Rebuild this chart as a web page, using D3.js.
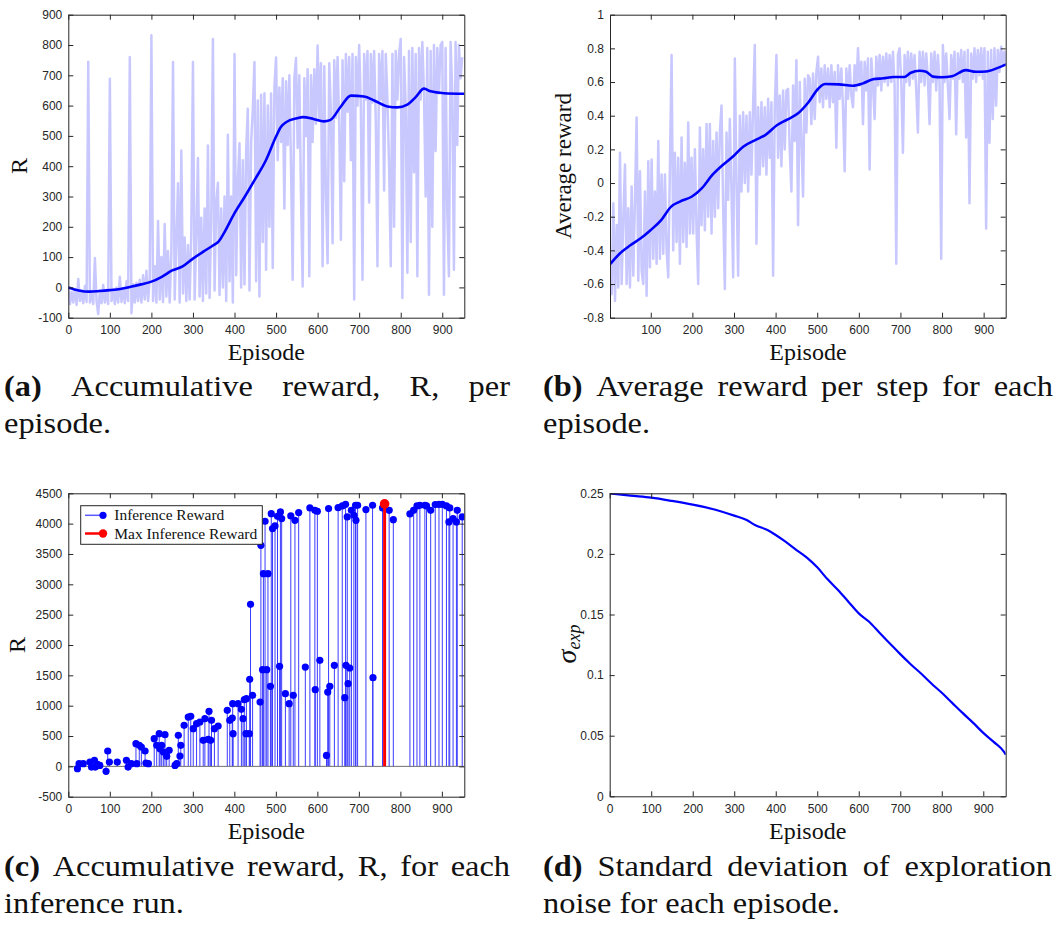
<!DOCTYPE html>
<html>
<head>
<meta charset="utf-8">
<script src="https://cdn.jsdelivr.net/npm/d3@7"></script>
<style>
  html, body { margin: 0; padding: 0; background: #fff; }
  svg { display: block; }
  .tick text { font-family: "Liberation Sans", Arial, Helvetica, sans-serif; font-size: 12px; fill: #262626; }
  .tick line, .domain { stroke: #262626; stroke-width: 1; }
  .serif { font-family: "Liberation Serif", "Times New Roman", serif; fill: #111; }
</style>
</head>
<body>
<script>
// ---------- (a) accumulative reward per episode ----------
const rewardEpStart = 0, rewardEpStep = 4;
const rewardRaw = [
  0,-55,-15,-50,-5,-58,28,-45,-10,-52,5,-48,745,-50,-12,-55,97,-45,-88,-10,-52,8,-50,-8,-55,
  689,-45,-5,-55,0,-50,35,-48,-5,-52,20,-45,760,-85,10,-50,15,-45,25,-50,40,-40,55,-45,30,
  832,-45,70,-50,219,-40,100,-48,209,-30,120,-50,110,744,-40,150,344,-50,452,-20,165,-45,140,-40,180,
  744,-40,170,427,-30,230,-45,260,-20,468,-35,220,820,-10,280,345,-25,260,0,300,-45,504,20,300,-50,
  770,40,350,476,0,420,10,450,590,-10,480,586,744,20,617,-30,636,150,641,58,600,200,640,64,660,
  759,420,660,480,690,260,680,470,700,400,25,690,757,460,700,300,3,690,500,720,37,700,480,720,540,
  798,560,740,70,730,300,80,740,580,146,750,560,760,530,157,750,350,770,580,760,420,770,-40,760,600,
  800,600,25,770,620,780,280,770,610,780,550,70,770,620,780,320,770,620,400,70,770,200,780,620,770,
  820,-35,760,600,48,780,150,790,380,770,37,790,620,810,640,300,790,-24,780,200,800,450,790,640,800,
  810,-24,790,250,37,810,650,58,810,470,800,690,760
];
const rewardSmoothEp = [0,25,50,75,100,125,150,175,200,225,250,275,300,325,350,362,375,400,425,450,475,500,512,525,550,565,590,615,630,656,680,712,736,768,792,816,836,856,872,904,953];
const rewardSmooth   = [0,-10,-14,-12,-9,-5,2,10,19,35,56,69,95,118,140,152,180,245,300,358,418,498,530,546,558,562,556,548,552,597,633,630,617,597,594,603,628,656,647,641,639];
const rewardYTicks = [-100,0,100,200,300,400,500,600,700,800,900];

// ---------- (b) average reward per step ----------
const avgEpStart = 2, avgEpStep = 4;
const avgRaw = [
  -0.48,-0.66,-0.12,-0.70,-0.25,-0.62,0.18,-0.60,-0.20,0.11,-0.60,-0.15,-0.62,-0.02,-0.55,-0.10,0.39,-0.58,0.07,-0.52,-0.60,-0.05,-0.67,0.13,-0.50,
  0.14,-0.45,-0.05,-0.48,0.25,-0.45,0.05,-0.42,0.05,-0.40,-0.56,0.10,0.76,-0.40,0.18,-0.35,0.15,-0.48,0.27,-0.35,0.12,-0.38,0.36,-0.30,0.15,
  -0.30,0.20,-0.28,-0.60,0.33,-0.25,0.20,-0.28,0.35,-0.20,0.35,-0.30,0.25,-0.20,0.30,-0.15,0.30,0.46,-0.15,-0.63,0.30,-0.10,0.38,-0.05,-0.56,
  0.74,0.00,-0.55,0.40,-0.05,0.42,0.00,0.40,-0.05,0.42,0.05,0.47,0.82,-0.36,0.45,0.05,0.48,0.10,0.45,0.05,0.50,0.15,0.48,-0.55,0.45,
  0.76,0.15,0.52,0.10,0.55,0.20,0.55,0.56,0.20,-0.05,0.58,0.25,0.73,-0.25,0.60,0.25,-0.08,0.62,0.30,0.64,0.62,0.35,0.65,0.38,0.66,
  0.75,0.48,0.68,0.45,0.70,0.50,0.68,0.45,0.70,0.48,0.66,0.21,0.70,0.50,0.68,0.45,0.07,0.68,0.50,0.70,0.52,0.45,0.70,0.55,0.80,
  0.58,0.72,0.35,0.72,0.55,0.74,0.08,0.74,0.58,0.38,0.75,0.58,0.76,0.55,0.75,0.60,0.77,0.58,0.76,0.60,0.78,0.58,-0.48,0.76,0.80,
  0.60,0.18,0.76,0.60,0.78,0.58,0.77,0.62,0.76,0.55,0.30,0.78,0.60,0.78,0.58,0.77,0.62,0.35,0.77,0.60,0.78,0.55,0.76,0.60,-0.45,
  0.82,0.60,0.77,0.58,0.38,0.76,0.62,0.78,0.29,0.77,0.62,0.79,0.60,0.78,0.27,0.79,-0.12,0.77,0.62,0.80,0.60,0.79,0.64,0.80,0.62,
  0.80,-0.27,0.78,0.24,0.79,0.38,0.80,0.46,0.79,0.66,0.81,0.70,0.78,0.70
];
const avgSmoothEp = [3,25,51,75,100,125,149,170,199,223,248,273,297,322,351,375,404,429,454,478,503,519,552,585,610,634,659,684,709,725,746,762,778,799,824,857,881,906,931,954];
const avgSmooth   = [-0.48,-0.42,-0.37,-0.33,-0.279,-0.22,-0.14,-0.11,-0.08,-0.03,0.048,0.107,0.156,0.216,0.255,0.285,0.345,0.378,0.414,0.477,0.562,0.588,0.586,0.578,0.592,0.616,0.622,0.63,0.63,0.655,0.667,0.661,0.632,0.628,0.634,0.671,0.661,0.663,0.681,0.705];
const avgYTicks = [-0.8,-0.6,-0.4,-0.2,0,0.2,0.4,0.6,0.8,1];

// ---------- (c) inference runs ----------
const inferEp = [22,26,36,52,56,63,65,70,76,91,95,99,118,140,144,152,163,165,171,176,185,187,193,207,213,219,221,225,229,233,237,243,257,261,265,269,271,279,289,295,301,309,317,325,329,337,339,343,345,352,361,383,389,395,396,397,409,417,421,424,428,429,436,437,439,444,462,464,468,470,474,478,481,487,489,492,498,504,509,511,514,523,532,536,542,546,555,571,582,594,595,600,606,622,625,627,630,641,650,660,666,668,669,672,674,678,682,688,692,693,697,717,733,734,757,762,773,783,823,832,840,847,859,863,873,884,893,901,911,917,919,927,935,937,949];
const inferR  = [-38,44,44,71,-11,99,-11,33,16,-82,253,71,71,99,-11,44,374,44,346,319,253,55,44,456,346,538,291,346,236,522,165,264,16,44,511,170,346,676,813,824,621,703,731,429,786,445,907,429,758,621,665,923,758,797,1033,538,1033,940,786,1099,538,1115,538,1434,2670,1170,1060,3643,1594,3176,4039,1594,3176,1319,4165,3918,3962,4121,1649,4193,4083,1198,1033,4127,1170,4055,4182,1637,4259,4220,1264,4204,1747,181,1225,4248,1319,1665,4264,4292,1132,4319,1665,4110,1363,1621,4220,4138,4303,4055,4303,4231,4303,1462,4259,4325,4220,4066,4160,4220,4292,4303,4303,4292,4220,4314,4319,4319,4292,4028,4259,4083,4028,4220,4110];
const inferYTicks = [-500,0,500,1000,1500,2000,2500,3000,3500,4000,4500];
const legendLabels = ["Inference Reward", "Max Inference Reward"];

// ---------- (d) exploration noise ----------
const sigmaEp = [0,50,100,150,200,250,300,330,350,380,400,420,450,475,500,525,550,575,600,625,650,675,700,725,750,775,800,825,850,875,900,925,950,954];
const sigma   = [0.25,0.2481,0.2464,0.2437,0.2406,0.2368,0.2316,0.228,0.2238,0.2197,0.2156,0.2109,0.2032,0.1969,0.1889,0.179,0.1702,0.1606,0.1509,0.144,0.1349,0.1261,0.1173,0.109,0.1013,0.0931,0.0854,0.0771,0.0688,0.0608,0.0523,0.0449,0.0366,0.0344];
const sigmaYTicks = [0,0.05,0.1,0.15,0.2,0.25];

const episodeTicks = [0,100,200,300,400,500,600,700,800,900];
const episodeTicksB = [100,200,300,400,500,600,700,800,900];

const captions = [
  { x0: 4,   x1: 510,  y: 396, line1: ["(a)", "Accumulative", "reward,", "R,", "per"], line2: "episode." },
  { x0: 543, x1: 1053, y: 396, line1: ["(b)", "Average", "reward", "per", "step", "for", "each"], line2: "episode." },
  { x0: 4,   x1: 510,  y: 876, line1: ["(c)", "Accumulative", "reward,", "R,", "for", "each"], line2: "inference run." },
  { x0: 543, x1: 1052, y: 876, line1: ["(d)", "Standard", "deviation", "of", "exploration"], line2: "noise for each episode." }
];

const SERIF = '"Liberation Serif", "Times New Roman", serif';
const W = 1057, H = 932;
const svg = d3.select("body").append("svg").attr("width", W).attr("height", H);
const defs = svg.append("defs");
let clipId = 0;

function serifText(sel) {
  return sel.append("text").attr("class", "serif").attr("font-family", SERIF).attr("fill", "#111");
}

function panel(box, xDomain, yDomain, xTicks, yTicks) {
  const x = d3.scaleLinear().domain(xDomain).range([box.left, box.right]);
  const y = d3.scaleLinear().domain(yDomain).range([box.bottom, box.top]);
  const id = "clip" + (clipId++);
  defs.append("clipPath").attr("id", id).append("rect")
    .attr("x", box.left).attr("y", box.top)
    .attr("width", box.right - box.left).attr("height", box.bottom - box.top);
  const g = svg.append("g");
  const plot = g.append("g").attr("clip-path", `url(#${id})`);
  const axes = g.append("g");
  const fmt = d => String(d);
  axes.append("g").attr("transform", `translate(0,${box.bottom})`)
    .call(d3.axisBottom(x).tickValues(xTicks).tickSizeInner(-5).tickSizeOuter(0).tickPadding(8).tickFormat(fmt));
  axes.append("g").attr("transform", `translate(0,${box.top})`)
    .call(d3.axisTop(x).tickValues(xTicks).tickSizeInner(-5).tickSizeOuter(0).tickFormat(""));
  axes.append("g").attr("transform", `translate(${box.left},0)`)
    .call(d3.axisLeft(y).tickValues(yTicks).tickSizeInner(-5).tickSizeOuter(0).tickPadding(6).tickFormat(fmt));
  axes.append("g").attr("transform", `translate(${box.right},0)`)
    .call(d3.axisRight(y).tickValues(yTicks).tickSizeInner(-5).tickSizeOuter(0).tickFormat(""));
  axes.selectAll(".tick text").attr("fill", "#262626");
  return { x, y, plot, axes };
}

function xLabel(cx, baseline) {
  serifText(svg).attr("x", cx).attr("y", baseline)
    .attr("text-anchor", "middle").attr("font-size", 24).text("Episode");
}
function yLabel(bx, cy, txt, size) {
  serifText(svg).attr("transform", `translate(${bx},${cy}) rotate(-90)`)
    .attr("text-anchor", "middle").attr("font-size", size).text(txt);
}

// (a)
{
  const box = { left: 68.3, right: 464.3, top: 14.7, bottom: 317.7 };
  const p = panel(box, [0, 953], [-100, 900], episodeTicks, rewardYTicks);
  p.plot.append("path").datum(rewardRaw)
    .attr("fill", "none").attr("stroke", "#c8c8ff").attr("stroke-width", 2.5).attr("stroke-linejoin", "round")
    .attr("d", d3.line().x((d, i) => p.x(rewardEpStart + i * rewardEpStep)).y(d => p.y(d)));
  p.plot.append("path").datum(rewardSmooth)
    .attr("fill", "none").attr("stroke", "#0000ff").attr("stroke-width", 2.6)
    .attr("d", d3.line().curve(d3.curveMonotoneX).x((d, i) => p.x(rewardSmoothEp[i])).y(d => p.y(d)));
  xLabel(266.3, 360);
  yLabel(27, 166, "R", 24);
}

// (b)
{
  const box = { left: 610, right: 1005.7, top: 14.7, bottom: 317.7 };
  const p = panel(box, [2, 953], [-0.8, 1], episodeTicksB, avgYTicks);
  p.plot.append("path").datum(avgRaw)
    .attr("fill", "none").attr("stroke", "#c8c8ff").attr("stroke-width", 2.5).attr("stroke-linejoin", "round")
    .attr("d", d3.line().x((d, i) => p.x(avgEpStart + i * avgEpStep)).y(d => p.y(d)));
  p.plot.append("path").datum(avgSmooth)
    .attr("fill", "none").attr("stroke", "#0000ff").attr("stroke-width", 2.6)
    .attr("d", d3.line().curve(d3.curveMonotoneX).x((d, i) => p.x(avgSmoothEp[i])).y(d => p.y(d)));
  xLabel(807.9, 360);
  yLabel(571, 166, "Average reward", 23);
}

// (c)
{
  const box = { left: 68.3, right: 464.3, top: 493.3, bottom: 796.7 };
  const p = panel(box, [0, 954], [-500, 4500], episodeTicks, inferYTicks);
  const runs = inferEp.map((e, i) => ({ e, r: inferR[i] }));
  const iMax = d3.maxIndex(inferR);
  const best = runs[iMax];
  const rest = runs.filter((d, i) => i !== iMax);
  p.plot.selectAll("line.stem").data(rest).join("line").attr("class", "stem")
    .attr("x1", d => p.x(d.e)).attr("x2", d => p.x(d.e))
    .attr("y1", p.y(0)).attr("y2", d => p.y(d.r))
    .attr("stroke", "#3c3cff").attr("stroke-width", 1);
  p.plot.append("line")
    .attr("x1", box.left).attr("x2", box.right).attr("y1", p.y(0)).attr("y2", p.y(0))
    .attr("stroke", "#707070").attr("stroke-width", 1);
  p.plot.selectAll("circle.mk").data(rest).join("circle").attr("class", "mk")
    .attr("cx", d => p.x(d.e)).attr("cy", d => p.y(d.r)).attr("r", 3.6).attr("fill", "#0000ff");
  p.plot.append("line")
    .attr("x1", p.x(best.e)).attr("x2", p.x(best.e)).attr("y1", p.y(0)).attr("y2", p.y(best.r))
    .attr("stroke", "#ff0000").attr("stroke-width", 3);
  p.plot.append("circle").attr("cx", p.x(best.e)).attr("cy", p.y(best.r)).attr("r", 4.8).attr("fill", "#ff0000");

  // legend
  const lg = svg.append("g");
  lg.append("rect").attr("x", 80.7).attr("y", 505.7).attr("width", 181.6).attr("height", 38.6)
    .attr("fill", "#fff").attr("stroke", "#262626").attr("stroke-width", 1);
  const rows = [{ c: "#5a5aff", m: "#0000ff", w: 1.5, r: 3.6 }, { c: "#ff0000", m: "#ff0000", w: 2.5, r: 4.2 }];
  const widths = [110, 143];
  rows.forEach((s, i) => {
    const yy = 515.3 + i * 18.2;
    lg.append("line").attr("x1", 85).attr("x2", 103).attr("y1", yy).attr("y2", yy)
      .attr("stroke", s.c).attr("stroke-width", s.w);
    lg.append("circle").attr("cx", 103).attr("cy", yy).attr("r", s.r).attr("fill", s.m);
    serifText(lg).attr("x", 114.3).attr("y", yy + 5)
      .attr("font-size", 15).attr("textLength", widths[i]).attr("lengthAdjust", "spacingAndGlyphs")
      .text(legendLabels[i]);
  });
  xLabel(266.3, 839);
  yLabel(25, 645, "R", 24);
}

// (d)
{
  const box = { left: 609.7, right: 1005.7, top: 493.3, bottom: 796.3 };
  const p = panel(box, [0, 954], [0, 0.25], episodeTicks, sigmaYTicks);
  p.plot.append("path").datum(sigma)
    .attr("fill", "none").attr("stroke", "#0000ff").attr("stroke-width", 2.2)
    .attr("d", d3.line().curve(d3.curveMonotoneX).x((d, i) => p.x(sigmaEp[i])).y(d => p.y(d)));
  xLabel(807.7, 839);
  const t = serifText(svg).attr("transform", "translate(576,644) rotate(-90)").attr("text-anchor", "middle");
  t.append("tspan").attr("font-size", 28).attr("font-style", "italic").text("σ");
  t.append("tspan").attr("font-size", 18).attr("font-style", "italic").attr("dy", 4).text("exp");
}

// captions: first line justified, second line left-aligned
const SX = 1.08;
captions.forEach(c => {
  const g = svg.append("g");
  const nodes = c.line1.map((w, i) => serifText(g)
    .attr("y", c.y).attr("font-size", 30).attr("font-weight", i === 0 ? "bold" : null).text(w));
  const wds = nodes.map(n => n.node().getComputedTextLength() * SX);
  const gap = (c.x1 - c.x0 - d3.sum(wds)) / (nodes.length - 1);
  let xx = c.x0;
  nodes.forEach((n, i) => {
    n.attr("x", xx).attr("textLength", wds[i]).attr("lengthAdjust", "spacingAndGlyphs");
    xx += wds[i] + gap;
  });
  const l2 = serifText(g).attr("x", c.x0).attr("y", c.y + 37).attr("font-size", 30).text(c.line2);
  l2.attr("textLength", l2.node().getComputedTextLength() * SX).attr("lengthAdjust", "spacingAndGlyphs");
});
</script>
</body>
</html>
